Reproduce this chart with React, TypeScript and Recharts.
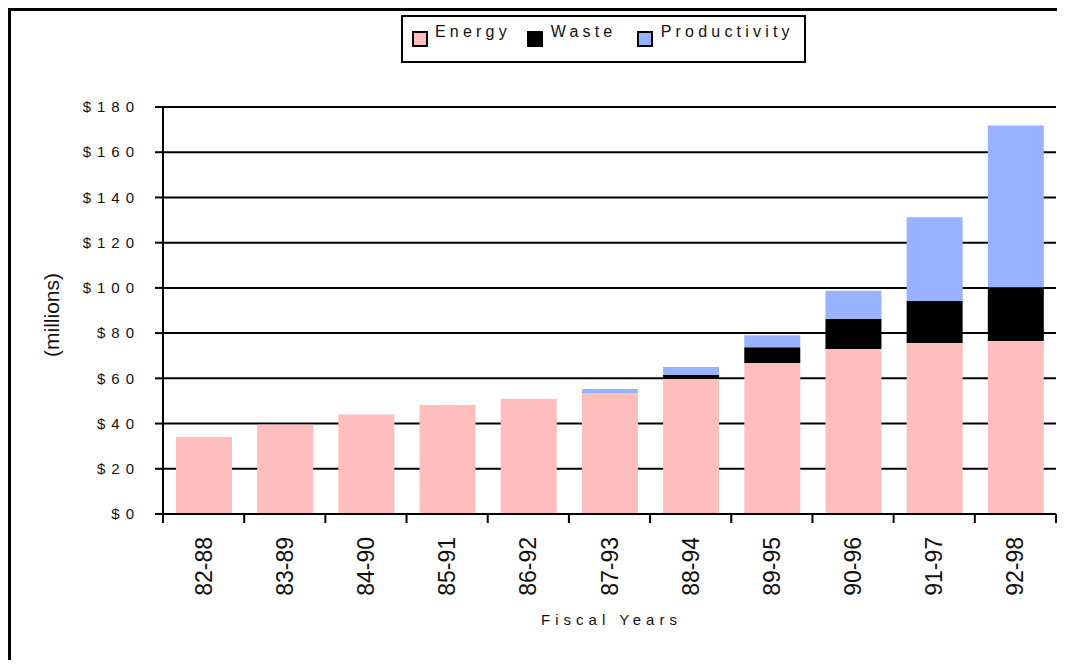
import React from 'react';
import {
  BarChart,
  Bar,
  XAxis,
  YAxis,
  CartesianGrid,
  Legend
} from 'recharts';

// fiscal year ranges and the three savings series ($ millions)
const years = ['82-88', '83-89', '84-90', '85-91', '86-92', '87-93', '88-94', '89-95', '90-96', '91-97', '92-98'];
const energy = [34, 39.5, 44, 48.2, 51, 53.5, 59.8, 66.8, 73, 75.6, 76.5];
const waste = [0, 0, 0, 0, 0, 0, 1.7, 7, 13.3, 18.6, 23.8];
const productivity = [0, 0, 0, 0, 0, 1.8, 3.5, 5.3, 12.4, 37, 71.5];
const yTicks = [0, 20, 40, 60, 80, 100, 120, 140, 160, 180];

const seriesNames = ['Energy', 'Waste', 'Productivity'];
const seriesColors = ['#FFBEBE', '#000000', '#99B2FF'];

const chartData = years.map((year, i) => ({
  year,
  Energy: energy[i],
  Waste: waste[i],
  Productivity: productivity[i]
}));

const W = 1057;
const H = 652;
const margin = { top: 99, right: 9, bottom: 16, left: 0 };
const yAxisWidth = 155;
const band = (W - margin.right - margin.left - yAxisWidth) / years.length;
const font = '"Liberation Sans", Arial, sans-serif';

const YTick = ({ x, y, payload }: any) => (
  <text x={x + 4} y={y} dy="0.35em" textAnchor="end" fontFamily={font} fontSize={15}
    letterSpacing={6} fill="#111">
    {`$${payload.value}`}
  </text>
);

const XTick = ({ x, y, payload, index }: any) => (
  <g>
    <line x1={x - band / 2} x2={x - band / 2} y1={y} y2={y + 9} stroke="#000" strokeWidth={2} />
    {index === years.length - 1 && (
      <line x1={x + band / 2} x2={x + band / 2} y1={y} y2={y + 9} stroke="#000" strokeWidth={2} />
    )}
    <text x={x} y={y + 23} dy="0.35em" textAnchor="end" transform={`rotate(-90, ${x}, ${y + 23})`}
      fontFamily={font} fontSize={23} fill="#111">
      {payload.value}
    </text>
  </g>
);

const renderLegend = () => {
  const squares = [8.7, 124, 234];
  const labels = [32, 147.7, 257.7];
  return (
    <div style={{
      position: 'relative', width: 405, height: 48, boxSizing: 'border-box',
      border: '2px solid #000', background: '#fff', fontFamily: font
    }}>
      {seriesNames.map((name, i) => (
        <React.Fragment key={name}>
          <div style={{
            position: 'absolute', left: squares[i], top: 14, width: 16, height: 16,
            boxSizing: 'border-box', border: '2px solid #000', background: seriesColors[i]
          }} />
          <div style={{
            position: 'absolute', left: labels[i], top: 6.5, fontSize: 16, lineHeight: '16px',
            letterSpacing: 4.2, color: '#111', whiteSpace: 'nowrap'
          }}>
            {name}
          </div>
        </React.Fragment>
      ))}
    </div>
  );
};

const App: React.FC = () => {
  return (
    <div style={{ position: 'relative', width: W, height: H }}>
      <div style={{
        position: 'absolute', left: 0, top: 0, width: W, height: H, boxSizing: 'border-box',
        borderTop: '3px solid #000', borderLeft: '3px solid #000'
      }} />
      <div style={{ position: 'absolute', left: 0, top: 0 }}>
        <BarChart width={W} height={H} data={chartData} margin={margin} barSize={56}>
          <CartesianGrid vertical={false} stroke="#000" strokeWidth={2} />
          <XAxis
            dataKey="year"
            height={130}
            tickSize={0}
            tickMargin={0}
            tickLine={false}
            interval={0}
            axisLine={{ stroke: '#000', strokeWidth: 2 }}
            tick={<XTick />}
            label={() => (
              <text x={margin.left + yAxisWidth + (W - margin.right - margin.left - yAxisWidth) / 2 + 2}
                y={617} textAnchor="middle" fontFamily={font} fontSize={15} letterSpacing={5} fill="#111">
                Fiscal Years
              </text>
            )}
          />
          <YAxis
            width={yAxisWidth}
            domain={[0, 180]}
            ticks={yTicks}
            interval={0}
            tickSize={8}
            tickMargin={19}
            tickLine={{ stroke: '#000', strokeWidth: 2 }}
            axisLine={{ stroke: '#000', strokeWidth: 2 }}
            tick={<YTick />}
            label={() => (
              <text x={44} y={307} transform="rotate(-90, 44, 307)" textAnchor="middle" dy="0.35em"
                fontFamily={font} fontSize={21} fill="#111">
                (millions)
              </text>
            )}
          />
          <Legend
            layout="horizontal"
            verticalAlign="middle"
            align="center"
            content={renderLegend}
            wrapperStyle={{ left: 393, top: 7, width: 405, height: 48 }}
          />
          {seriesNames.map((name, i) => (
            <Bar key={name} dataKey={name} stackId="a" fill={seriesColors[i]} isAnimationActive={false} />
          ))}
        </BarChart>
      </div>
    </div>
  );
};

export default App;
